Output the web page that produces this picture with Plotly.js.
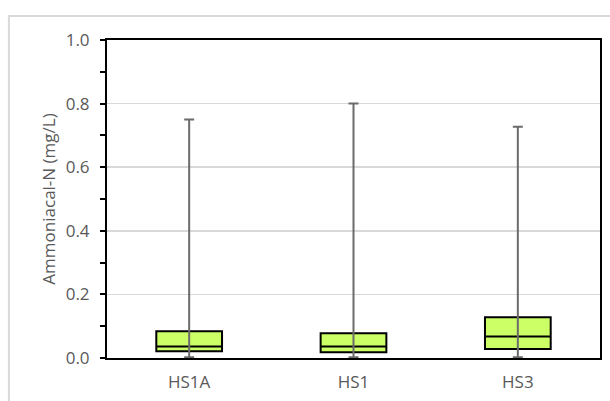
<!DOCTYPE html>
<html>
<head>
<meta charset="utf-8">
<script src="https://cdn.plot.ly/plotly-3.0.1.min.js"></script>
<style>
  html, body { margin: 0; padding: 0; background: #ffffff; }
  #chart { width: 610px; height: 401px; }
</style>
</head>
<body>
<div id="chart"></div>
<script>
// Sampling sites
const sites = ['HS1A', 'HS1', 'HS3'];

// Five-number summaries of ammoniacal-N (mg/L) per site
const minimum = [0.002, 0.002, 0.002];
const q1      = [0.021, 0.018, 0.028];
const median  = [0.036, 0.036, 0.068];
const q3      = [0.084, 0.078, 0.128];
const maximum = [0.750, 0.800, 0.727];

// Y axis ticks
const yTickVals = [0, 0.2, 0.4, 0.6, 0.8, 1.0];
const yTickText = ['0.0', '0.2', '0.4', '0.6', '0.8', '1.0'];

const textGrey = '#595959';
const fontFamily = '"Open Sans", "Noto Sans", sans-serif';
const fontSize = 17;

// Interquartile boxes with median line
const boxes = {
  type: 'box',
  x: sites,
  q1: q1,
  median: median,
  q3: q3,
  lowerfence: q1,
  upperfence: q3,
  width: 0.4,
  fillcolor: '#ccff66',
  line: { color: '#000000', width: 2 },
  whiskerwidth: 0,
  hoverinfo: 'skip',
  showlegend: false
};

// Min-to-max whiskers drawn as capped error bars around the median
const whiskers = {
  type: 'scatter',
  mode: 'markers',
  x: sites,
  y: median,
  marker: { size: 1, opacity: 0 },
  error_y: {
    type: 'data',
    symmetric: false,
    array: maximum.map((v, i) => v - median[i]),
    arrayminus: median.map((v, i) => v - minimum[i]),
    color: '#6b6b6b',
    thickness: 2,
    width: 5
  },
  hoverinfo: 'skip',
  showlegend: false
};

const layout = {
  width: 610,
  height: 401,
  margin: { l: 107, r: 10, t: 40, b: 43 },
  paper_bgcolor: '#ffffff',
  plot_bgcolor: '#ffffff',
  font: { family: fontFamily, size: fontSize, color: textGrey },
  boxmode: 'overlay',
  xaxis: {
    type: 'category',
    range: [-0.5, sites.length - 0.5],
    showgrid: false,
    showline: true,
    linecolor: '#000000',
    linewidth: 2,
    mirror: true,
    ticks: '',
    ticklabelstandoff: 8,
    tickfont: { family: fontFamily, size: fontSize, color: textGrey },
    zeroline: false
  },
  yaxis: {
    range: [0, 1],
    tickvals: yTickVals,
    ticktext: yTickText,
    ticks: 'outside',
    ticklen: 5,
    tickwidth: 2,
    tickcolor: '#000000',
    minor: { dtick: 0.1, ticks: 'outside', ticklen: 5, tickwidth: 2, tickcolor: '#000000', showgrid: false },
    showgrid: true,
    gridcolor: '#d9d9d9',
    gridwidth: 1.5,
    showline: true,
    linecolor: '#000000',
    linewidth: 2,
    mirror: true,
    zeroline: false,
    ticklabelstandoff: 7,
    tickfont: { family: fontFamily, size: fontSize, color: textGrey },
    title: {
      text: 'Ammoniacal-N (mg/L)',
      font: { family: fontFamily, size: fontSize, color: textGrey },
      standoff: 6
    }
  },
  shapes: [
    {
      type: 'rect',
      xref: 'paper', yref: 'paper',
      x0: -0.199, x1: 1.05, y0: -0.2, y1: 1.0755,
      line: { color: '#d9d9d9', width: 2 },
      fillcolor: 'rgba(0,0,0,0)',
      layer: 'below'
    }
  ]
};

Plotly.newPlot('chart', [boxes, whiskers], layout, { displayModeBar: false, staticPlot: true });
</script>
</body>
</html>
